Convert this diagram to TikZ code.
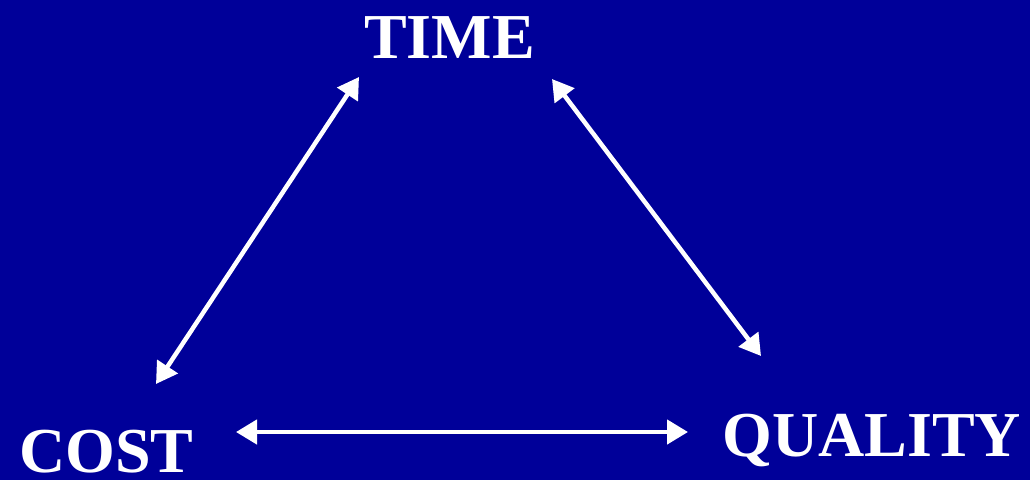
\documentclass[tikz,border=0pt]{standalone}
\usepackage{fontspec}
\setmainfont{Liberation Serif}
\usetikzlibrary{arrows.meta}
\definecolor{bgblue}{HTML}{000099}
\begin{document}
\begin{tikzpicture}[x=1pt,y=-1pt,
  lbl/.style={text=white,font=\fontsize{64}{70}\selectfont\bfseries,inner sep=0pt,anchor=base west},
  link/.style={draw=white,line width=4.5pt,{Triangle[length=21pt,width=24pt]}-{Triangle[length=21pt,width=24pt]}}]
\fill[bgblue] (0,0) rectangle (1030,480);
\node[lbl] (time) at (364,58) {TIME};
\node[lbl,text depth=0pt] (cost) at (19,472) {COST};
\node[lbl] (quality) at (722,456) {QUALITY};
\coordinate (t1) at (359,77);
\coordinate (c1) at (156,384);
\coordinate (t2) at (552,79);
\coordinate (q1) at (761,356);
\coordinate (c2) at (236,432);
\coordinate (q2) at (688,432);
\draw[link] (t1) -- (c1);
\draw[link] (t2) -- (q1);
\draw[link] (c2) -- (q2);
\end{tikzpicture}
\end{document}
